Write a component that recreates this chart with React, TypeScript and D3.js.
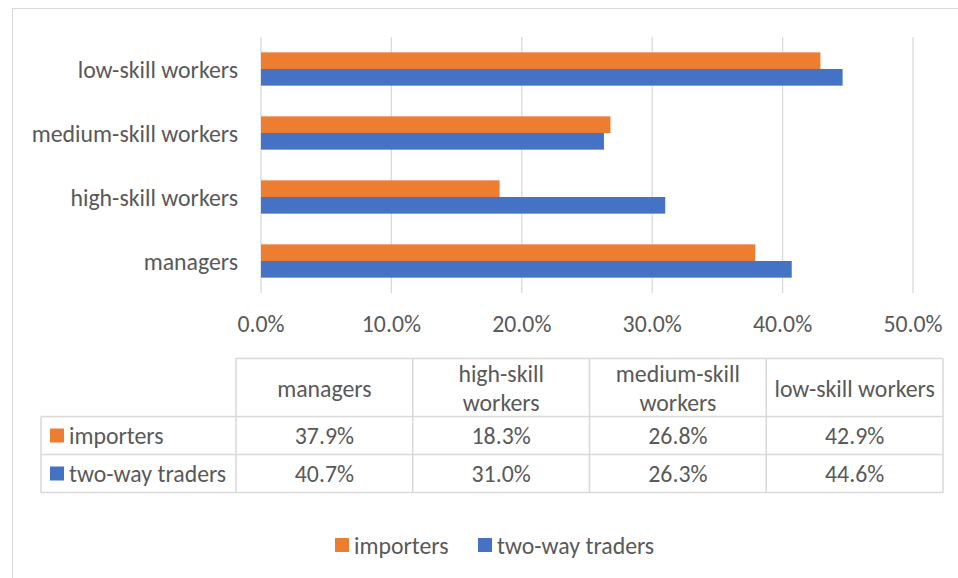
import React from 'react';
import * as d3 from 'd3';

// chart data
const categories = ['managers', 'high-skill workers', 'medium-skill workers', 'low-skill workers'];
const importers = [37.9, 18.3, 26.8, 42.9];
const twoWayTraders = [40.7, 31.0, 26.3, 44.6];
const seriesNames = ['importers', 'two-way traders'];
const xTicks = [0, 10, 20, 30, 40, 50];

const colors = ['#ED7D31', '#4472C4'];
const textColor = '#595959';
const gridColor = '#d9d9d9';
const font = 'Carlito, Calibri, Lato, sans-serif';
const fs = 23.8;

const W = 958;
const H = 578;

const App = () => {
  const series = [importers, twoWayTraders];

  // plot area
  const x = d3.scaleLinear().domain([0, 50]).range([261, 913]);
  const y = d3
    .scaleBand<string>()
    .domain([...categories].reverse())
    .range([37, 293])
    .paddingInner(0.48)
    .paddingOuter(0.24);
  const ySub = d3
    .scaleBand<number>()
    .domain([0, 1])
    .range([0, y.bandwidth()]);

  // data table below
  const tableLeft = 41;
  const colScale = d3
    .scaleBand<string>()
    .domain(categories)
    .range([236, 943]);
  const headerTop = 358.5;
  const headerBottom = 416.5;
  const rowH = 38;
  const rowTop = (i: number) => headerBottom + i * rowH;
  const tableBottom = rowTop(series.length);

  const fmt = (v: number) => `${v.toFixed(1)}%`;

  // split long header labels onto two lines
  const wrap = (s: string) => {
    if (s.length <= 17) return [s];
    const k = s.lastIndexOf(' ');
    return [s.slice(0, k), s.slice(k + 1)];
  };

  return (
    <>
      <style>{'body{margin:0}'}</style>
      <svg width={W} height={H} style={{ display: 'block', fontFamily: font }}>
        <rect width={W} height={H} fill="#fff" />
        {/* chart border */}
        <rect x={12.5} y={8.5} width={980} height={620} fill="none" stroke={gridColor} strokeWidth={1} />

        {/* gridlines */}
        {xTicks.map(t => (
          <line key={t} x1={x(t)} x2={x(t)} y1={37} y2={293} stroke={gridColor} strokeWidth={1.3} />
        ))}

        {/* bars */}
        {categories.map((c, ci) =>
          series.map((s, si) => (
            <rect
              key={`${c}-${si}`}
              x={x(0)}
              y={(y(c) ?? 0) + (ySub(si) ?? 0)}
              width={x(s[ci]) - x(0)}
              height={ySub.bandwidth()}
              fill={colors[si]}
            />
          ))
        )}

        {/* category labels */}
        {categories.map(c => (
          <text
            key={c}
            x={238}
            y={(y(c) ?? 0) + y.bandwidth() / 2}
            textAnchor="end"
            dominantBaseline="central"
            fontSize={fs}
            fill={textColor}
          >
            {c}
          </text>
        ))}

        {/* x tick labels */}
        {xTicks.map(t => (
          <text key={t} x={x(t)} y={332} textAnchor="middle" fontSize={fs} fill={textColor}>
            {fmt(t)}
          </text>
        ))}

        {/* data table */}
        <g stroke={gridColor} strokeWidth={1.5} fill="none">
          <line x1={236} x2={943} y1={headerTop} y2={headerTop} />
          <line x1={tableLeft} x2={943} y1={headerBottom} y2={headerBottom} />
          {series.map((_, i) => (
            <line key={i} x1={tableLeft} x2={943} y1={rowTop(i + 1)} y2={rowTop(i + 1)} />
          ))}
          <line x1={tableLeft} x2={tableLeft} y1={headerBottom} y2={tableBottom} />
          {categories.map(c => (
            <line key={c} x1={colScale(c)} x2={colScale(c)} y1={headerTop} y2={tableBottom} />
          ))}
          <line x1={943} x2={943} y1={headerTop} y2={tableBottom} />
        </g>

        {categories.map(c => {
          const lines = wrap(c);
          const cx = (colScale(c) ?? 0) + colScale.bandwidth() / 2;
          const cy = (headerTop + headerBottom) / 2;
          const lh = 28.5;
          return (
            <text key={c} textAnchor="middle" fontSize={fs} fill={textColor} dominantBaseline="central">
              {lines.map((l, li) => (
                <tspan key={li} x={cx} y={cy + (li - (lines.length - 1) / 2) * lh}>
                  {l}
                </tspan>
              ))}
            </text>
          );
        })}

        {series.map((s, si) => {
          const cy = rowTop(si) + rowH / 2;
          return (
            <g key={si}>
              <rect x={50} y={cy - 7} width={14} height={14} fill={colors[si]} />
              <text x={69} y={cy} dominantBaseline="central" fontSize={fs} fill={textColor}>
                {seriesNames[si]}
              </text>
              {categories.map((c, ci) => (
                <text
                  key={c}
                  x={(colScale(c) ?? 0) + colScale.bandwidth() / 2}
                  y={cy}
                  textAnchor="middle"
                  dominantBaseline="central"
                  fontSize={fs}
                  fill={textColor}
                >
                  {fmt(s[ci])}
                </text>
              ))}
            </g>
          );
        })}

        {/* legend */}
        <g>
          <rect x={335} y={538} width={14} height={14} fill={colors[0]} />
          <text x={354} y={545} dominantBaseline="central" fontSize={fs} fill={textColor}>
            {seriesNames[0]}
          </text>
          <rect x={478} y={538} width={14} height={14} fill={colors[1]} />
          <text x={497} y={545} dominantBaseline="central" fontSize={fs} fill={textColor}>
            {seriesNames[1]}
          </text>
        </g>
      </svg>
    </>
  );
};

export default App;
